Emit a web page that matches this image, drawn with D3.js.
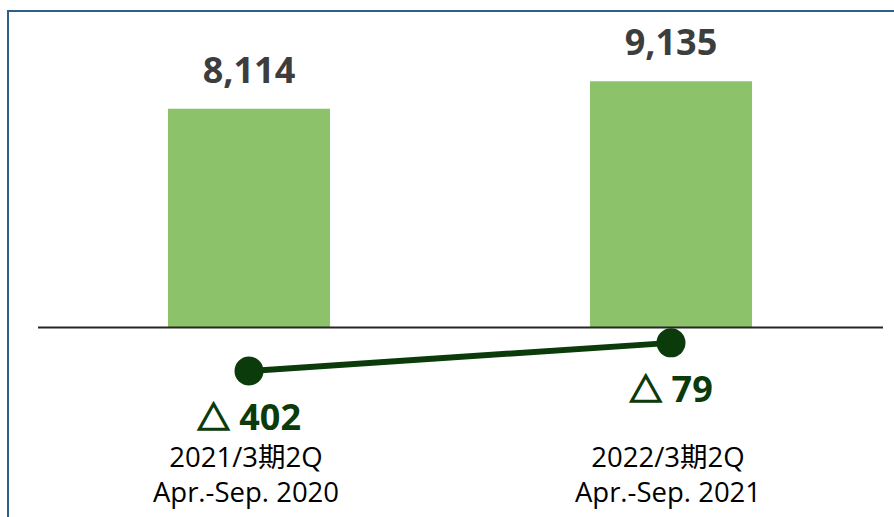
<!DOCTYPE html>
<html>
<head>
<meta charset="utf-8">
<script src="https://cdn.jsdelivr.net/npm/d3@7"></script>
<style>
  body { margin: 0; background: #fff; }
  svg { display: block; font-family: "Open Sans", "Noto Sans CJK JP", sans-serif; }
</style>
</head>
<body>
<div id="chart"></div>
<script>
// 売上高 (bars) と 営業利益 (line, △ = マイナス)
const periods = ["2021/3期2Q", "2022/3期2Q"];
const periodsEn = ["Apr.-Sep. 2020", "Apr.-Sep. 2021"];
const sales = [8114, 9135];
const profit = [-402, -79];

const W = 894, H = 517;

const svg = d3.select("#chart")
  .append("svg")
    .attr("width", W)
    .attr("height", H);

// 枠線 (右・下は画面外)
svg.append("rect")
  .attr("x", 8)
  .attr("y", 11)
  .attr("width", 1000)
  .attr("height", 1000)
  .attr("fill", "none")
  .attr("stroke", "#2f5f86")
  .attr("stroke-width", 2);

const x = d3.scaleBand()
  .domain(periods)
  .range([38, 882])
  .paddingInner(0.616)
  .paddingOuter(0.308);

const y = d3.scaleLinear()
  .domain([0, 10000])
  .range([327, 58]);

// 営業利益用の第2軸
const y2 = d3.scaleLinear()
  .domain([-1000, 0])
  .range([423, 336]);

const cx = d => x(d) + x.bandwidth() / 2;

// 棒
svg.selectAll("rect.bar")
  .data(periods)
  .enter().append("rect")
    .attr("class", "bar")
    .attr("x", d => x(d))
    .attr("y", (d, i) => y(sales[i]))
    .attr("width", x.bandwidth())
    .attr("height", (d, i) => y(0) - y(sales[i]))
    .attr("fill", "#8cc269");

// 棒ラベル
svg.selectAll("text.val")
  .data(periods)
  .enter().append("text")
    .attr("class", "val")
    .attr("x", cx)
    .attr("y", (d, i) => y(sales[i]) - 26)
    .attr("text-anchor", "middle")
    .attr("font-size", "36px")
    .attr("font-weight", "bold")
    .attr("fill", "#3d3d3d")
    .text((d, i) => d3.format(",")(sales[i]));

// ゼロ線
svg.append("line")
  .attr("x1", 38)
  .attr("x2", 883)
  .attr("y1", y(0) + 0.5)
  .attr("y2", y(0) + 0.5)
  .attr("stroke", "#262626")
  .attr("stroke-width", 2);

// 折れ線
const line = d3.line()
  .x(d => cx(d))
  .y((d, i) => y2(profit[i]));

svg.append("path")
  .datum(periods)
  .attr("d", line)
  .attr("fill", "none")
  .attr("stroke", "#0b3b0b")
  .attr("stroke-width", 6);

svg.selectAll("circle.dot")
  .data(periods)
  .enter().append("circle")
    .attr("class", "dot")
    .attr("cx", cx)
    .attr("cy", (d, i) => y2(profit[i]))
    .attr("r", 14.5)
    .attr("fill", "#0b3b0b");

const pl = svg.selectAll("text.pl")
  .data(periods)
  .enter().append("text")
    .attr("class", "pl")
    .attr("x", cx)
    .attr("y", (d, i) => y2(profit[i]) + 59)
    .attr("text-anchor", "middle")
    .attr("font-size", "36px")
    .attr("font-weight", "bold")
    .attr("fill", "#0b3b0b");

pl.append("tspan")
  .attr("font-family", "'Noto Sans CJK JP'")
  .attr("font-size", "33px")
  .attr("stroke", "#0b3b0b")
  .attr("stroke-width", 1.6)
  .text((d, i) => profit[i] < 0 ? "△" : "");

pl.append("tspan")
  .text((d, i) => " " + Math.abs(profit[i]));

// カテゴリラベル
svg.selectAll("text.cat")
  .data(periods)
  .enter().append("text")
    .attr("class", "cat")
    .attr("x", d => cx(d) - 3)
    .attr("y", 467)
    .attr("text-anchor", "middle")
    .attr("font-size", "27.5px")
    .attr("fill", "#000")
    .text(d => d);

svg.selectAll("text.cat2")
  .data(periods)
  .enter().append("text")
    .attr("class", "cat2")
    .attr("x", d => cx(d) - 3)
    .attr("y", 502)
    .attr("text-anchor", "middle")
    .attr("font-size", "27.5px")
    .attr("fill", "#000")
    .text((d, i) => periodsEn[i]);
</script>
</body>
</html>
